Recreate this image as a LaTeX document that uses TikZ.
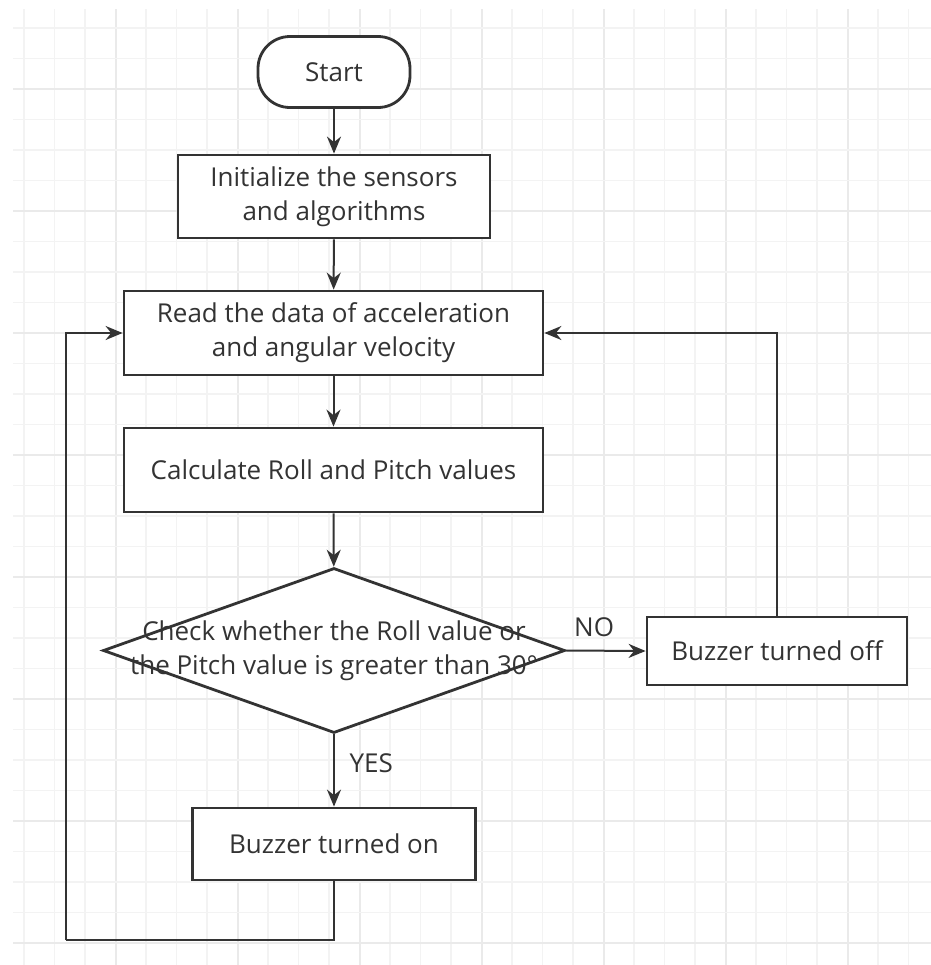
\documentclass[tikz,border=0pt]{standalone}
\usepackage{fontspec}
\setmainfont{Open Sans}
\usetikzlibrary{arrows.meta, shapes.geometric}
\definecolor{ink}{HTML}{333333}
\definecolor{gridminor}{HTML}{F3F3F3}
\definecolor{gridmajor}{HTML}{EAEAEA}

\begin{document}
\begin{tikzpicture}[x=0.5pt, y=-0.5pt,
        >={Stealth[length=8.5pt, width=7pt]},
        every node/.style={font=\fontsize{13}{17}\selectfont, text=ink},
        proc/.style={draw=ink, line width=1.4pt, fill=white, align=center, inner sep=0pt},
        term/.style={proc, rounded corners=16pt},
        dec/.style={draw=ink, line width=1.4pt, fill=white, diamond, inner sep=0pt},
        arr/.style={->, draw=ink, line width=1pt},
        link/.style={draw=ink, line width=1pt},
    ]
    \useasboundingbox (0,0) rectangle (931,965);
    \fill[white] (0,0) rectangle (931,965);
    % background grid, every fourth line darker
    \foreach \i in {0,...,29} {
        \pgfmathsetmacro{\gx}{24+30.5*\i}
        \pgfmathtruncatemacro{\m}{mod(\i,4)}
        \ifnum\m=3 \draw[gridmajor, line width=1pt] (\gx,9) -- (\gx,965);
        \else \draw[gridminor, line width=0.8pt] (\gx,9) -- (\gx,965); \fi
    }
    \foreach \j in {0,...,30} {
        \pgfmathsetmacro{\gy}{28+30.5*\j}
        \pgfmathtruncatemacro{\m}{mod(\j,4)}
        \ifnum\m=2 \draw[gridmajor, line width=1pt] (13,\gy) -- (931,\gy);
        \else \draw[gridminor, line width=0.8pt] (13,\gy) -- (931,\gy); \fi
    }

    \node[term, minimum width=76pt, minimum height=35.5pt] (start) at (334, 72) {Start};
    \node[proc, minimum width=156pt, minimum height=41.5pt] (init) at (334, 196.5)
        {Initialize the sensors\\and algorithms};
    \node[proc, minimum width=209.5pt, minimum height=42pt] (read) at (333.5, 333)
        {Read the data of acceleration\\and angular velocity};
    \node[proc, minimum width=209.5pt, minimum height=42pt] (calc) at (333.5, 470)
        {Calculate Roll and Pitch values};
    \node[dec, minimum width=231pt, minimum height=82.5pt] (chk) at (334, 650.5) {};
    \node[align=center] (chktxt) at (chk.center)
        {Check whether the Roll value or\\the Pitch value is greater than 30°};
    \node[proc, minimum width=130pt, minimum height=34pt] (off) at (777, 651) {Buzzer turned off};
    \node[proc, minimum width=141.5pt, minimum height=36pt] (on) at (334, 844) {Buzzer turned on};
    \coordinate (back) at (66, 940);

    \draw[arr] (start) -- (init);
    \draw[arr] (init) -- (read);
    \draw[arr] (read) -- (calc);
    \draw[arr] (calc) -- (chk);
    \draw[arr] (chk.east) -- node[above, pos=0.35, yshift=3pt] {NO} (off.west);
    \draw[arr] (chk.south) -- node[right, pos=0.4, xshift=4pt] {YES} (on.north);
    \draw[arr] (off.north) |- (read.east);
    \draw[link] (on.south) |- (back);
    \draw[arr] (back) |- (read.west);
\end{tikzpicture}
\end{document}
